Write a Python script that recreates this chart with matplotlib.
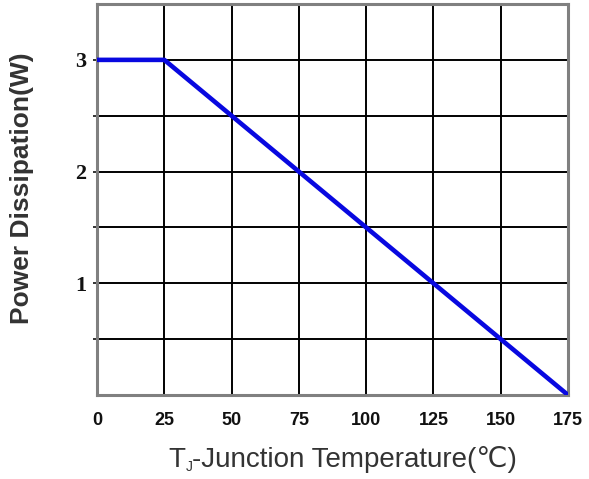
import matplotlib
matplotlib.use("Agg")
import matplotlib.pyplot as plt

plt.rcParams['font.family'] = ['Liberation Sans', 'DejaVu Sans']

# derating curve: flat up to 25 C, then linear down to zero at 175 C
temp_c = [0, 25, 175]
power_w = [3, 3, 0]

x_ticks = [0, 25, 50, 75, 100, 125, 150, 175]
y_ticks = [1, 2, 3]
y_grid = [0.5, 1, 1.5, 2, 2.5, 3]

fig = plt.figure(figsize=(5.89, 4.79), dpi=100)
ax = fig.add_axes([0.1647, 0.1754, 0.7996, 0.8162])

for g in x_ticks[1:-1]:
    ax.axvline(g, color="black", linewidth=1.4, zorder=1)
for g in y_grid:
    ax.axhline(g, color="black", linewidth=1.4, zorder=1)

ax.plot(temp_c, power_w, color="#0808e0", linewidth=3.3, solid_capstyle="butt", zorder=3)

ax.set_xlim(0, 175)
ax.set_ylim(0, 3.5)
ax.set_xticks(x_ticks)
ax.set_xticklabels([str(v) for v in x_ticks], fontsize=13, fontweight="bold")
ax.set_yticks(y_grid)
ax.set_yticklabels(["" if v not in y_ticks else str(int(v)) for v in y_grid],
                   fontsize=16, fontweight="bold", family="Liberation Serif")
ax.tick_params(axis="x", length=0, pad=12, colors="#111111")
ax.tick_params(axis="y", length=3, width=1.2, pad=5, colors="#111111")

for s in ax.spines.values():
    s.set_color("#808080")
    s.set_linewidth(2.2)

fig.text(22 / 589, 1 - 188 / 479, "Power Dissipation(W)", rotation=90,
         ha="center", va="center", fontsize=19, fontweight="bold", color="#333333")

# x label in three pieces so the J can sit as a subscript
label_y = 1 - 460 / 479
t_main = fig.text(0.3, label_y, "T", ha="left", va="center", fontsize=20, color="#333333")
t_sub = ax.annotate("J", xy=(1, 0), xycoords=t_main, xytext=(0, -1),
                    textcoords="offset points", ha="left", va="bottom",
                    fontsize=10, color="#333333", annotation_clip=False)
t_rest = ax.annotate("-Junction Temperature(℃)", xy=(1, 0), xycoords=(t_sub, t_main),
                     ha="left", va="bottom", fontsize=20, color="#333333",
                     annotation_clip=False)

# centre the whole label under the axes
fig.canvas.draw()
r = fig.canvas.get_renderer()
left = t_main.get_window_extent(r).x0
right = t_rest.get_window_extent(r).x1
shift = (343 - (left + right) / 2) / fig.bbox.width
t_main.set_x(t_main.get_position()[0] + shift)

fig.savefig("out.png", dpi=100, facecolor="white")
